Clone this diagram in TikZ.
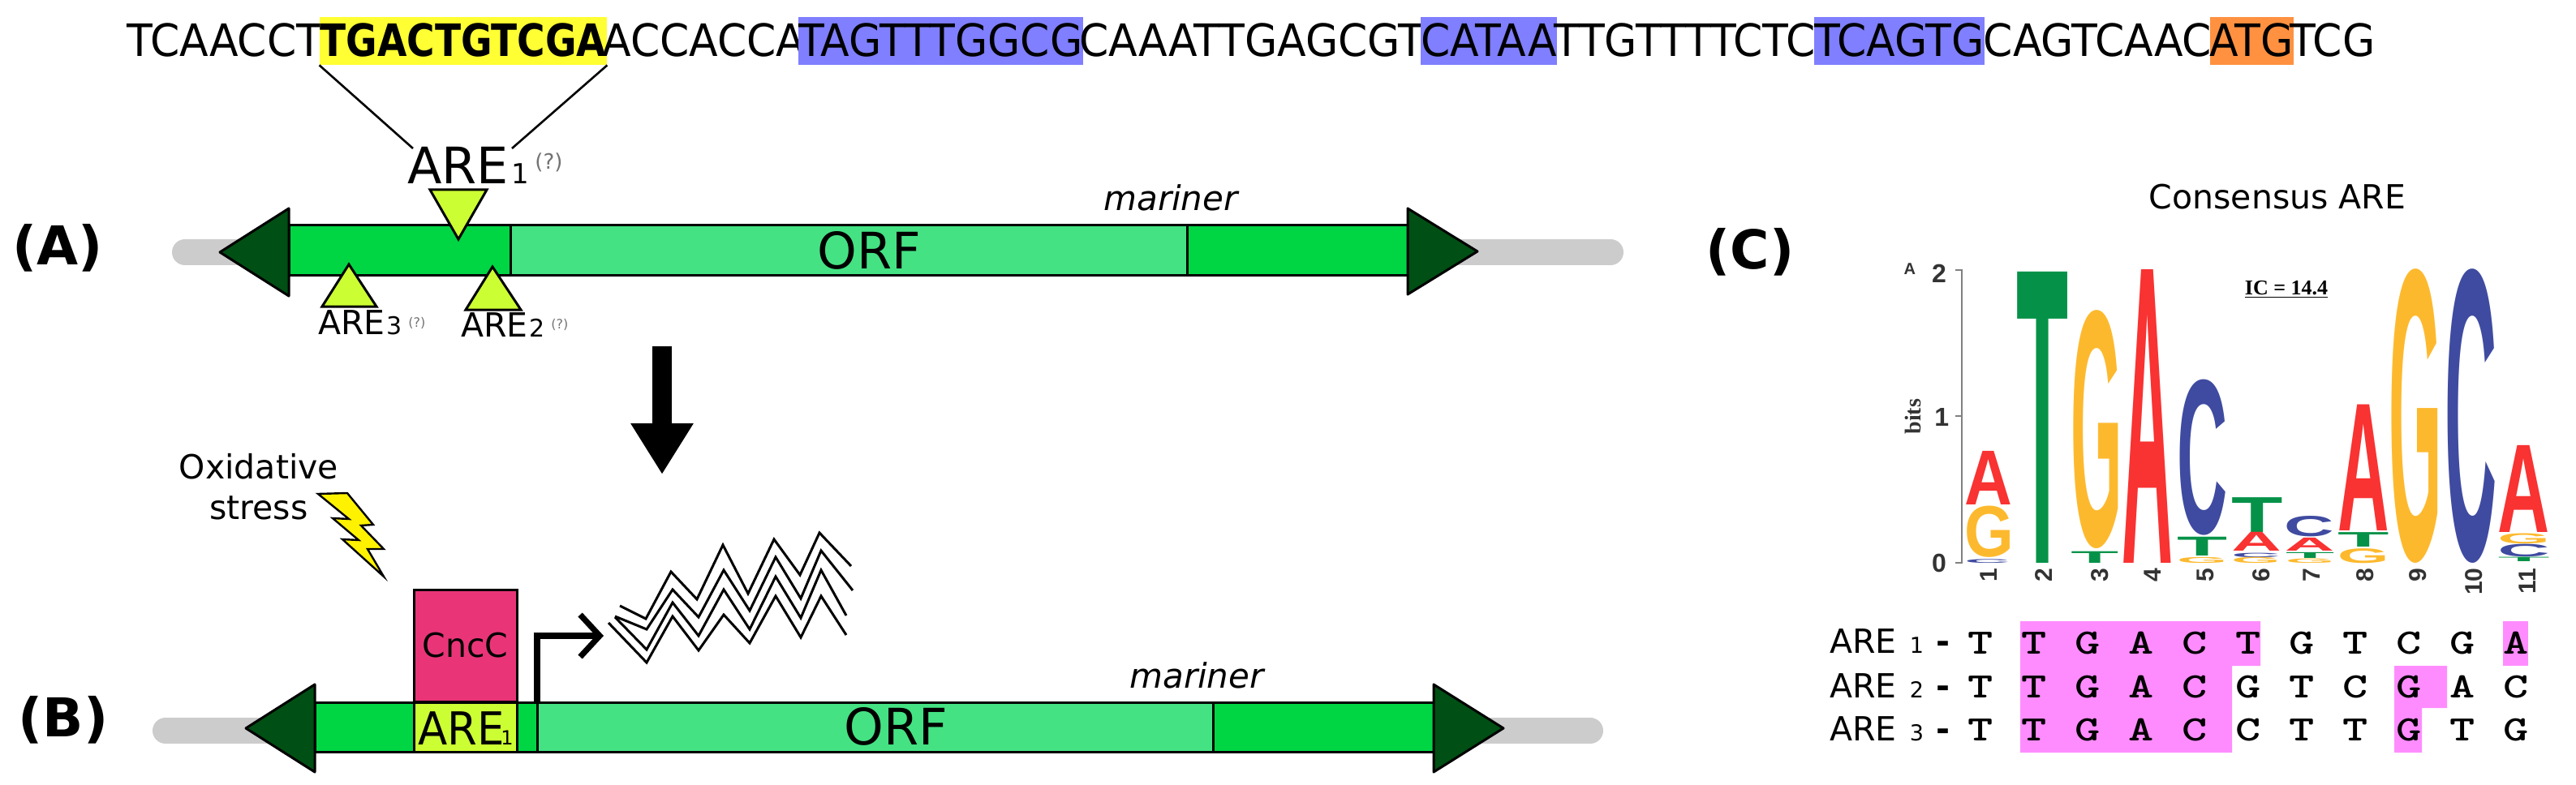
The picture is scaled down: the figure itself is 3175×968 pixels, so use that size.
\documentclass[tikz,border=0pt]{standalone}
\usepackage{graphicx}
\usepackage{fontspec}
\usepackage{tikz}
\usetikzlibrary{arrows.meta}
\setmainfont{DejaVu Sans}
\newfontfamily\condfont{DejaVu Sans Condensed}[FakeStretch=1.05, BoldFeatures={FakeStretch=0.95}]
\newfontfamily\logofont{Liberation Sans}
\newfontfamily\icfont{Liberation Serif}
\newcommand{\pxsize}[1]{\fontsize{#1}{#1}\selectfont}
\newcommand{\alc}[1]{\makebox[33pt]{\scalebox{1.35}[1]{#1}}}

\definecolor{barflank}{HTML}{00D544}
\definecolor{barorf}{HTML}{44E283}
\definecolor{barend}{HTML}{004F14}
\definecolor{barline}{HTML}{CCCCCC}
\definecolor{arefill}{HTML}{CCFF33}
\definecolor{cncfill}{HTML}{E93578}
\definecolor{seqyellow}{HTML}{FFFF33}
\definecolor{seqblue}{HTML}{7F7FFF}
\definecolor{seqorange}{HTML}{FF9140}
\definecolor{alnpink}{HTML}{FF8CFF}
\definecolor{logored}{HTML}{F93232}
\definecolor{logoorange}{HTML}{FDB92E}
\definecolor{logoblue}{HTML}{3F4BA0}
\definecolor{logogreen}{HTML}{059248}

\tikzset{
  seqtext/.style={inner sep=0pt, anchor=base, text height=24.5pt, text depth=5pt, font=\condfont\pxsize{27.5}},
  panel/.style={inner sep=0pt, font=\bfseries\pxsize{33}},
  plain/.style={inner sep=0pt, font=\pxsize{20.5}, anchor=base},
  marinerlabel/.style={inner sep=0pt, font=\itshape\pxsize{21}, anchor=base},
  orflabel/.style={inner sep=0pt, font=\pxsize{31}, anchor=base},
  query/.style={inner sep=0pt, anchor=base west, text=black!55, font=\pxsize{8}},
  barbox/.style={draw=black, line width=1.5pt},
  barhead/.style={draw=black, line width=1.5pt, fill=barend, line join=round},
  aremark/.style={draw=black, line width=1.5pt, fill=arefill, line join=miter},
  graybar/.style={barline, line width=16pt, line cap=round},
  wave/.style={draw=black, line width=1.5pt, line join=miter},
  alnrow/.style={inner sep=0pt, anchor=base west, font=\ttfamily\bfseries\pxsize{22}},
  alnname/.style={inner sep=0pt, anchor=base west, font=\pxsize{20.5}},
  logotick/.style={inner sep=0pt, font=\logofont\bfseries\pxsize{16}, text=black!80},
  lognum/.style={inner sep=0pt, anchor=east, rotate=90, font=\logofont\bfseries\pxsize{15}, text=black!80}
}

% one stretched letter of the logo: name, left, right, top, bottom, colour, letter
\newcommand{\logoletter}[7]{%
  \pgfmathsetmacro\logow{(#3-#2)*0.3268}%
  \pgfmathsetmacro\logoh{(#5-#4)*0.17857}%
  \node[anchor=south west, inner sep=0pt, text=#6] (#1) at (#2,#5)
    {\resizebox{\logow pt}{\logoh pt}{\logofont\bfseries #7}};}

\begin{document}
\begin{tikzpicture}[x=0.5pt,y=-0.5pt]
 \useasboundingbox (0,0) rectangle (3175,968);

 % sequence
 \node[seqtext, minimum width=117pt] (seqa) at (277,70) {TCAACCT};
 \node[seqtext, minimum width=177pt, fill=seqyellow, font=\condfont\bfseries\pxsize{27.5}] (seqare) at (571,70) {TGACTGTCGA};
 \node[seqtext, minimum width=119.5pt] (seqb) at (867.5,70) {ACCACCA};
 \node[seqtext, minimum width=172.5pt, fill=seqblue] (seqc) at (1159.5,70) {TAGTTTGGCG};
 \node[seqtext, minimum width=211pt] (seqd) at (1543,70) {CAAATTGAGCGT};
 \node[seqtext, minimum width=81pt, fill=seqblue] (seqe) at (1835,70) {CATAA};
 \node[seqtext, minimum width=160.5pt] (seqf) at (2076.5,70) {TTGTTTTCTC};
 \node[seqtext, minimum width=104pt, fill=seqblue] (seqg) at (2341,70) {TCAGTG};
 \node[seqtext, minimum width=140.5pt] (seqh) at (2585.5,70) {CAGTCAAC};
 \node[seqtext, minimum width=49pt, fill=seqorange] (seqi) at (2775,70) {ATG};
 \node[seqtext, minimum width=51pt] (seqj) at (2875,70) {TCG};

 \node[inner sep=0pt, anchor=base west, font=\pxsize{31}] (arelabel) at (502,227) {ARE};
 \node[inner sep=0pt, anchor=base west, font=\pxsize{17}] (arelabelno) at (630,227) {1};
 \node[query, font=\pxsize{13}] (arelabelq) at (659,209) {(?)};
 \coordinate (areleft) at (509,183);
 \coordinate (areright) at (631,183);
 \draw[line width=1.3pt] (seqare.south west) -- (areleft);
 \draw[line width=1.3pt] (seqare.south east) -- (areright);

 % panel A
 \node[panel] (panela) at (71,306) {(A)};
 \draw[graybar] (228,311) -- (1985,311);
 \draw[barbox, fill=barflank] (356,278) rectangle (1735,339);
 \draw[barbox, fill=barorf] (629,278) rectangle (1463,339);
 \draw[barhead] (356,257) -- (271,311) -- (356,365) -- cycle;
 \draw[barhead] (1735,257) -- (1821,310) -- (1735,363) -- cycle;
 \node[orflabel] (orfa) at (1071,331) {ORF};
 \node[marinerlabel] (marinera) at (1443,260) {mariner};
 \draw[aremark] (530,234) -- (600,234) -- (565,295) -- cycle;
 \draw[aremark] (397,378) -- (464,378) -- (430,326) -- cycle;
 \draw[aremark] (574,382) -- (642,382) -- (607,329) -- cycle;
 \node[plain, anchor=base west] (arethree) at (392,412) {ARE};
 \node[plain, anchor=base west, font=\pxsize{15}] (arethreeno) at (476,412) {3};
 \node[query] (arethreeq) at (503,403) {(?)};
 \node[plain, anchor=base west] (aretwo) at (568,415) {ARE};
 \node[plain, anchor=base west, font=\pxsize{15}] (aretwono) at (652,415) {2};
 \node[query] (aretwoq) at (679,405) {(?)};

 \coordinate (downtop) at (816,427);
 \coordinate (downtip) at (816,585);
 \draw[line width=12pt, -{Triangle[length=31.5pt,width=36.5pt]}] (downtop) -- (downtip);

 % panel B
 \node[panel] (panelb) at (78,888) {(B)};
 \draw[graybar] (204,901) -- (1960,901);
 \draw[barbox, fill=barflank] (388,866) rectangle (1767,927);
 \draw[barbox, fill=barorf] (662,866) rectangle (1495,927);
 \draw[barhead] (388,844) -- (303,898) -- (388,952) -- cycle;
 \draw[barhead] (1767,844) -- (1853,898) -- (1767,952) -- cycle;
 \node[orflabel] (orfb) at (1104,918) {ORF};
 \node[marinerlabel] (marinerb) at (1475,848) {mariner};
 \node[draw=black, line width=1.5pt, fill=cncfill, inner sep=0pt, minimum width=63.5pt, minimum height=69pt, font=\pxsize{20.5}] (cncc) at (573.5,796) {CncC};
 \node[draw=black, line width=1.5pt, fill=arefill, inner sep=0pt, minimum width=63.5pt, minimum height=30.5pt] (areboxb) at (573.5,896.5) {};
 \node[inner sep=0pt, anchor=base west, font=\condfont\pxsize{28}] (areb) at (515,918) {ARE};
 \node[inner sep=0pt, anchor=base west, font=\pxsize{12}] (arebno) at (617,918) {1};
 \coordinate (tss) at (662,866);
 \coordinate (tsstip) at (744,784);
 \draw[line width=3.6pt, line join=miter, -{Straight Barb[length=12pt,width=26pt]}] (tss) |- (tsstip);

 \node[plain] (oxa) at (319,590) {Oxidative};
 \node[plain] (oxb) at (319,640) {stress};
 \draw[line width=1.2pt, fill=yellow, line join=miter] (392,609) -- (428,608) -- (460,647) -- (445,648) -- (473,677) -- (453,677) -- (473,711) -- (422,665) -- (442,666) -- (410,639) -- (430,640) -- cycle;

 % transcript
 \draw[wave] (750,768) -- (797,817) -- (829,760) -- (861,802) -- (892,758) -- (924,793) -- (956,735) -- (987,786) -- (1012,735) -- (1043,783);
 \draw[wave] (758,761) -- (797,801) -- (829,743) -- (861,784) -- (892,727) -- (924,776) -- (956,711) -- (987,762) -- (1012,703) -- (1043,759);
 \draw[wave] (758,760) -- (797,776) -- (829,727) -- (861,761) -- (892,703) -- (924,753) -- (956,687) -- (987,738) -- (1012,679) -- (1051,728);
 \draw[wave] (764,747) -- (796,763) -- (827,705) -- (859,739) -- (891,672) -- (922,732) -- (954,665) -- (986,709) -- (1010,657) -- (1049,698);

 % panel C
 \node[panel] (panelc) at (2157,311) {(C)};
 \node[plain] (consensus) at (2807,258) {Consensus ARE};

 \begin{scope}[shift={(2150,200)},x=0.3268pt,y=-0.17857pt]
  \logoletter{ga}{415}{508}{1190}{1365}{logoorange}{G}
  \logoletter{aa}{415}{505}{1000}{1185}{logored}{A}
  \logoletter{ca}{415}{500}{1372}{1385}{logoblue}{C}
  \logoletter{tb}{512}{610}{380}{1385}{logogreen}{T}
  \logoletter{gc}{615}{712}{525}{1335}{logoorange}{G}
  \logoletter{tc}{615}{705}{1345}{1385}{logogreen}{T}
  \logoletter{ad}{712}{808}{372}{1385}{logored}{A}
  \logoletter{ce}{815}{910}{760}{1290}{logoblue}{C}
  \logoletter{te}{815}{910}{1295}{1360}{logogreen}{T}
  \logoletter{ge}{815}{910}{1365}{1385}{logoorange}{G}
  \logoletter{tf}{918}{1015}{1160}{1280}{logogreen}{T}
  \logoletter{af}{918}{1012}{1280}{1345}{logored}{A}
  \logoletter{cf}{918}{1010}{1350}{1365}{logoblue}{C}
  \logoletter{gf}{918}{1010}{1365}{1385}{logoorange}{G}
  \logoletter{cg}{1018}{1112}{1225}{1295}{logoblue}{C}
  \logoletter{ag}{1018}{1112}{1300}{1345}{logored}{A}
  \logoletter{tg}{1020}{1112}{1350}{1370}{logogreen}{T}
  \logoletter{gg}{1020}{1112}{1370}{1385}{logoorange}{G}
  \logoletter{ah}{1118}{1215}{840}{1275}{logored}{A}
  \logoletter{th}{1118}{1215}{1280}{1330}{logogreen}{T}
  \logoletter{gh}{1118}{1215}{1335}{1385}{logoorange}{G}
  \logoletter{gi}{1215}{1315}{385}{1385}{logoorange}{G}
  \logoletter{cj}{1320}{1418}{385}{1385}{logoblue}{C}
  \logoletter{ak}{1420}{1518}{980}{1280}{logored}{A}
  \logoletter{gk}{1420}{1518}{1285}{1320}{logoorange}{G}
  \logoletter{ck}{1420}{1518}{1322}{1365}{logoblue}{C}
  \logoletter{tk}{1420}{1518}{1365}{1380}{logogreen}{T}

  \draw[black!50, line width=1pt] (398,372) -- (410,372) -- (410,1382) -- (398,1382);
  \draw[black!50, line width=1pt] (398,877) -- (410,877);
  \node[logotick] (tickb) at (367,385) {2};
  \node[logotick] (ticka) at (372,880) {1};
  \node[logotick] (tickz) at (367,1385) {0};
  \node[logotick, font=\logofont\bfseries\pxsize{10}] (unit) at (312,368) {A};
  \node[logotick, rotate=90, font=\icfont\bfseries\pxsize{14}] (bits) at (318,878) {bits};
  \node[inner sep=0pt, font=\icfont\bfseries\pxsize{13}] (icval) at (1022,440) {\underline{IC = 14.4}};
  \node[lognum] (numa) at (460,1400) {1};
  \node[lognum] (numb) at (565,1400) {2};
  \node[lognum] (numc) at (670,1400) {3};
  \node[lognum] (numd) at (770,1400) {4};
  \node[lognum] (nume) at (870,1400) {5};
  \node[lognum] (numf) at (975,1400) {6};
  \node[lognum] (numg) at (1070,1400) {7};
  \node[lognum] (numh) at (1170,1400) {8};
  \node[lognum] (numi) at (1270,1400) {9};
  \node[lognum] (numj) at (1375,1400) {10};
  \node[lognum] (numk) at (1477,1400) {11};
 \end{scope}

 % alignment
 \fill[alnpink] (2490,766) -- (2786,766) -- (2786,821) -- (2751,821) -- (2751,928) -- (2490,928) -- cycle;
 \fill[alnpink] (3085,766) rectangle (3116,821);
 \fill[alnpink] (2951,821) -- (3016,821) -- (3016,873) -- (2985,873) -- (2985,928) -- (2951,928) -- cycle;
 \node[alnname] (namea) at (2255,805) {ARE\hspace{8pt}{\pxsize{13.5}1}\hspace{7.5pt}{\bfseries -}};
 \node[alnname] (nameb) at (2255,860) {ARE\hspace{8pt}{\pxsize{13.5}2}\hspace{7.5pt}{\bfseries -}};
 \node[alnname] (namec) at (2255,913) {ARE\hspace{8pt}{\pxsize{13.5}3}\hspace{7.5pt}{\bfseries -}};
 \node[alnrow] (rowa) at (2408,806) {\alc T\alc T\alc G\alc A\alc C\alc T\alc G\alc T\alc C\alc G\alc A};
 \node[alnrow] (rowb) at (2408,860) {\alc T\alc T\alc G\alc A\alc C\alc G\alc T\alc C\alc G\alc A\alc C};
 \node[alnrow] (rowc) at (2408,913) {\alc T\alc T\alc G\alc A\alc C\alc C\alc T\alc T\alc G\alc T\alc G};
\end{tikzpicture}
\end{document}
